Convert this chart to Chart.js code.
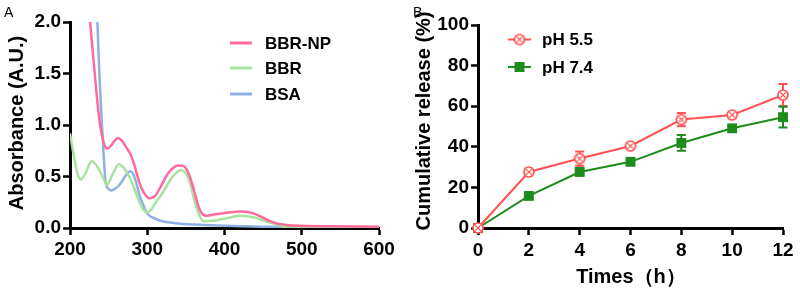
<!DOCTYPE html>
<html><head><meta charset="utf-8">
<script src="https://cdn.jsdelivr.net/npm/chart.js@4.4.0/dist/chart.umd.min.js"></script>
<style>
html,body{margin:0;padding:0;background:#fff;}
#wrap{position:relative;width:800px;height:291px;overflow:hidden;background:#fff;}
.p{position:absolute;top:0;width:400px;height:291px;}
#pa{left:0} #pb{left:400px}
</style></head><body>
<div id="wrap">
<div class="p" id="pa"><canvas id="ca" width="400" height="291"></canvas></div>
<div class="p" id="pb"><canvas id="cb" width="400" height="291"></canvas></div>
</div>
<script>
const FONT = "'Liberation Sans', Arial, Helvetica, sans-serif";

// ---------- Panel A: absorbance spectra ----------
const wlBBRNP  = [226, 232, 238, 242, 245, 248, 252, 256, 262, 268, 273, 278, 283, 289, 295, 303, 310, 318, 326, 333, 340, 346, 351, 356, 360, 365, 370, 376, 390, 405, 420, 430, 440, 455, 467, 480, 500, 540, 600];
const absBBRNP = [2.0, 1.5, 1.05, 0.88, 0.80, 0.77, 0.79, 0.83, 0.875, 0.84, 0.78, 0.72, 0.62, 0.46, 0.35, 0.29, 0.31, 0.41, 0.52, 0.58, 0.607, 0.605, 0.57, 0.48, 0.38, 0.24, 0.15, 0.12, 0.135, 0.15, 0.16, 0.155, 0.135, 0.08, 0.045, 0.03, 0.022, 0.017, 0.013];

const wlBBR  = [200, 205, 210, 214, 220, 228, 235, 242, 248, 255, 263, 270, 276, 283, 289, 295, 300, 306, 312, 319, 326, 333, 340, 345, 350, 355, 360, 366, 373, 385, 400, 420, 440, 455, 467, 477, 485, 500, 600];
const absBBR = [0.92, 0.70, 0.52, 0.47, 0.53, 0.65, 0.60, 0.50, 0.42, 0.52, 0.62, 0.58, 0.51, 0.39, 0.27, 0.18, 0.15, 0.19, 0.26, 0.33, 0.42, 0.50, 0.55, 0.56, 0.53, 0.45, 0.30, 0.15, 0.066, 0.07, 0.09, 0.12, 0.10, 0.06, 0.035, 0.012, 0.0, 0.0, 0.0];

const wlBSA  = [235.5, 238, 241.5, 244, 246, 250, 254, 258, 263, 268, 273, 278, 282, 286, 290, 295, 300, 306, 316, 325, 340, 360, 400, 450, 500, 600];
const absBSA = [2.0, 1.5, 0.98, 0.65, 0.45, 0.38, 0.365, 0.38, 0.41, 0.46, 0.52, 0.55, 0.52, 0.43, 0.32, 0.22, 0.14, 0.105, 0.073, 0.058, 0.043, 0.033, 0.022, 0.012, 0.009, 0.008];

const namesA  = ['BBR-NP', 'BBR', 'BSA'];
const colorsA = ['#ff6a98', '#a6e3a0', '#8eb0e3'];

// ---------- Panel B: cumulative release ----------
const timeB  = [0, 2, 4, 6, 8, 10, 12];
const rel55  = [0, 27.6, 34.2, 40.4, 53.4, 55.7, 65.5];
const err55  = [0, 1.0, 3.5, 1.0, 3.3, 1.0, 5.4];
const rel74  = [0, 15.8, 27.6, 32.6, 41.9, 49.1, 54.6];
const err74  = [0, 1.0, 1.2, 1.4, 3.9, 1.2, 5.1];
const namesB  = ['pH 5.5', 'pH 7.4'];
const colorsB = ['#ff5252', '#1d8c1d'];

function makeCircleX(color){
  const c = document.createElement('canvas'); c.width = 14; c.height = 14;
  const g = c.getContext('2d');
  g.fillStyle = '#fff'; g.strokeStyle = color; g.lineWidth = 1.7;
  g.beginPath(); g.arc(7, 7, 5, 0, Math.PI*2); g.fill(); g.stroke();
  g.lineWidth = 1.3;
  g.beginPath(); g.moveTo(4.4, 4.4); g.lineTo(9.6, 9.6); g.moveTo(9.6, 4.4); g.lineTo(4.4, 9.6); g.stroke();
  return c;
}
const circX = makeCircleX(colorsB[0]);

function tickFont(){ return {family: FONT, size: 19, weight: 'bold'}; }
function axisCommon(){
  return {
    grid: {display: true, drawOnChartArea: false, drawTicks: true, tickLength: 7, tickWidth: 2.5, tickColor: '#000'},
    border: {display: true, width: 3, color: '#000'}
  };
}

const textPlugin = (items) => ({
  id: 'texts',
  afterDraw(chart){
    const ctx = chart.ctx;
    items.forEach(t => {
      ctx.save();
      ctx.fillStyle = '#000';
      ctx.font = t.font;
      ctx.textAlign = t.align || 'left';
      ctx.textBaseline = t.baseline || 'middle';
      ctx.translate(t.x, t.y);
      if (t.rot) ctx.rotate(t.rot);
      ctx.fillText(t.text, 0, 0);
      ctx.restore();
    });
  }
});

const legendA = {
  id: 'legendA',
  afterDraw(chart){
    const ctx = chart.ctx;
    const ys = [43, 68, 94];
    chart.data.datasets.forEach((ds, i) => {
      ctx.save();
      ctx.strokeStyle = ds.borderColor; ctx.lineWidth = 3;
      ctx.beginPath(); ctx.moveTo(230, ys[i]); ctx.lineTo(252, ys[i]); ctx.stroke();
      ctx.fillStyle = '#000'; ctx.font = 'bold 17px ' + FONT;
      ctx.textBaseline = 'middle'; ctx.textAlign = 'left';
      ctx.fillText(ds.label, 265, ys[i] + 1);
      ctx.restore();
    });
  }
};

const legendB = {
  id: 'legendB',
  afterDraw(chart){
    const ctx = chart.ctx;
    const ys = [39.5, 67];
    chart.data.datasets.forEach((ds, i) => {
      ctx.save();
      ctx.strokeStyle = ds.borderColor; ctx.lineWidth = 2;
      ctx.beginPath(); ctx.moveTo(108, ys[i]); ctx.lineTo(131, ys[i]); ctx.stroke();
      if (i === 0) { ctx.drawImage(circX, 119.5 - 7, ys[i] - 7); }
      else { ctx.fillStyle = ds.backgroundColor; ctx.fillRect(119.5 - 5, ys[i] - 5, 10, 10); }
      ctx.fillStyle = '#000'; ctx.font = 'bold 17px ' + FONT;
      ctx.textBaseline = 'middle'; ctx.textAlign = 'left';
      ctx.fillText(ds.label, 142, ys[i] + 1);
      ctx.restore();
    });
  }
};

const errorBars = {
  id: 'errorBars',
  beforeDatasetsDraw(chart){
    const ctx = chart.ctx, ys = chart.scales.y;
    chart.data.datasets.forEach((ds, i) => {
      if (!ds.errors) return;
      const meta = chart.getDatasetMeta(i);
      ctx.save(); ctx.strokeStyle = ds.borderColor; ctx.lineWidth = 2;
      meta.data.forEach((pt, j) => {
        const e = ds.errors[j]; if (!e) return;
        const v = ds.data[j].y;
        const yt = ys.getPixelForValue(v + e), yb = ys.getPixelForValue(v - e);
        ctx.beginPath();
        ctx.moveTo(pt.x, yt); ctx.lineTo(pt.x, yb);
        ctx.moveTo(pt.x - 4.5, yt); ctx.lineTo(pt.x + 4.5, yt);
        ctx.moveTo(pt.x - 4.5, yb); ctx.lineTo(pt.x + 4.5, yb);
        ctx.stroke();
      });
      ctx.restore();
    });
  }
};

const specX = [wlBBRNP, wlBBR, wlBSA];
const specY = [absBBRNP, absBBR, absBSA];

new Chart(document.getElementById('ca'), {
  type: 'line',
  data: {
    datasets: namesA.map((n, i) => ({
      label: n,
      data: specX[i].map((x, k) => ({x: x, y: specY[i][k]})),
      borderColor: colorsA[i],
      borderWidth: 2.5,
      pointRadius: 0,
      fill: false,
      cubicInterpolationMode: 'monotone'
    }))
  },
  options: {
    responsive: false, animation: false, devicePixelRatio: 1,
    layout: {padding: {left: 0, right: 21, top: 22, bottom: 0}},
    plugins: {legend: {display: false}, tooltip: {enabled: false}},
    scales: {
      x: Object.assign(axisCommon(), {
        type: 'linear', min: 200, max: 600,
        ticks: {stepSize: 100, color: '#000', font: tickFont(), padding: 3},
        afterFit(s){ s.height = 63; }
      }),
      y: Object.assign(axisCommon(), {
        type: 'linear', min: 0, max: 2,
        ticks: {stepSize: 0.5, color: '#000', font: tickFont(), padding: 2, callback: v => v.toFixed(1)},
        afterFit(s){ s.width = 70; }
      })
    }
  },
  plugins: [legendA, textPlugin([
    {text: 'A', x: 4, y: 17, font: '14px ' + FONT, baseline: 'alphabetic'},
    {text: 'Absorbance (A.U.)', x: 17, y: 123, font: 'bold 20px ' + FONT, align: 'center', rot: -Math.PI/2}
  ])]
});

const relB = [rel55, rel74];
const errB = [err55, err74];

new Chart(document.getElementById('cb'), {
  type: 'line',
  data: {
    datasets: namesB.map((n, i) => ({
      label: n,
      data: timeB.map((t, k) => ({x: t, y: relB[i][k]})),
      errors: errB[i],
      borderColor: colorsB[i],
      backgroundColor: colorsB[i],
      borderWidth: 2,
      pointStyle: i === 0 ? circX : 'rect',
      pointRadius: i === 0 ? 6 : 7,
      pointBorderWidth: 0,
      pointBackgroundColor: colorsB[i],
      tension: 0,
      clip: false
    }))
  },
  options: {
    responsive: false, animation: false, devicePixelRatio: 1,
    layout: {padding: {left: 0, right: 17, top: 25, bottom: 0}},
    plugins: {legend: {display: false}, tooltip: {enabled: false}},
    scales: {
      x: Object.assign(axisCommon(), {
        type: 'linear', min: 0, max: 12,
        ticks: {stepSize: 2, color: '#000', font: tickFont(), padding: 4},
        afterFit(s){ s.height = 63; }
      }),
      y: Object.assign(axisCommon(), {
        type: 'linear', min: 0, max: 100,
        ticks: {stepSize: 20, color: '#000', font: tickFont(), padding: 2},
        afterFit(s){ s.width = 78; }
      })
    }
  },
  plugins: [errorBars, legendB, textPlugin([
    {text: 'B', x: 13, y: 17, font: '14px ' + FONT, baseline: 'alphabetic'},
    {text: 'Cumulative release (%)', x: 24, y: 121, font: 'bold 20px ' + FONT, align: 'center', rot: -Math.PI/2},
    {text: 'Times（h）', x: 231, y: 277, font: 'bold 20px ' + FONT, align: 'center'}
  ])]
});
</script>
</body></html>
